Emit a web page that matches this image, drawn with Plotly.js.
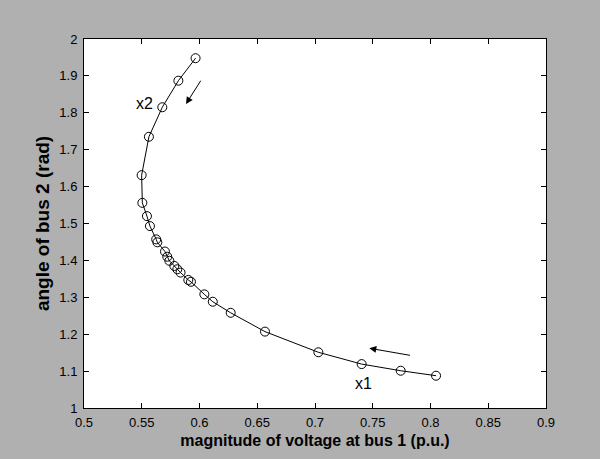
<!DOCTYPE html>
<html>
<head>
<meta charset="utf-8">
<script src="https://cdn.plot.ly/plotly-3.0.1.min.js"></script>
<style>html,body{margin:0;padding:0;background:#b0b0b0;}#plot{width:600px;height:459px;}</style>
</head>
<body>
<div id="plot"></div>
<script>
// magnitude of voltage at bus 1 (p.u.)
var voltage = [0.5966, 0.5817, 0.5678, 0.5562, 0.5499, 0.5505, 0.5545, 0.5571, 0.5625, 0.5635,
               0.5701, 0.5721, 0.5739, 0.5782, 0.5808, 0.5836, 0.5903, 0.5926, 0.6042, 0.6115,
               0.6270, 0.6567, 0.7029, 0.7404, 0.7742, 0.8048];
// angle of bus 2 (rad)
var angle = [1.948, 1.887, 1.815, 1.735, 1.631, 1.556, 1.520, 1.493, 1.457, 1.449,
             1.424, 1.410, 1.399, 1.385, 1.376, 1.367, 1.347, 1.342, 1.308, 1.288,
             1.258, 1.207, 1.151, 1.119, 1.101, 1.0875];
var xTicks = [0.5, 0.55, 0.6, 0.65, 0.7, 0.75, 0.8, 0.85, 0.9];
var xTickText = ['0.5', '0.55', '0.6', '0.65', '0.7', '0.75', '0.8', '0.85', '0.9'];
var yTicks = [1, 1.1, 1.2, 1.3, 1.4, 1.5, 1.6, 1.7, 1.8, 1.9, 2];
var yTickText = ['1', '1.1', '1.2', '1.3', '1.4', '1.5', '1.6', '1.7', '1.8', '1.9', '2'];
// labels and direction arrows (data coordinates)
var labelText = ['x2', 'x1'];
var labelX = [0.5528, 0.7418];
var labelY = [1.824, 1.067];
var arrowHeadX = [0.5883, 0.7470];
var arrowHeadY = [1.824, 1.162];
var arrowTailX = [0.6019, 0.7836];
var arrowTailY = [1.891, 1.142];

var trace = {
  x: voltage, y: angle, type: 'scatter', mode: 'lines+markers',
  line: {color: '#000', width: 1},
  marker: {symbol: 'circle-open', size: 9, color: '#000', line: {width: 1, color: '#000'}},
  hoverinfo: 'x+y'
};

var annotations = [];
for (var i = 0; i < labelText.length; i++) {
  annotations.push({x: labelX[i], y: labelY[i], xref: 'x', yref: 'y', text: labelText[i],
    showarrow: false, font: {family: 'Liberation Sans, Arial, sans-serif', size: 16, color: '#000'}});
}
for (var j = 0; j < arrowHeadX.length; j++) {
  annotations.push({x: arrowHeadX[j], y: arrowHeadY[j], ax: arrowTailX[j], ay: arrowTailY[j],
    xref: 'x', yref: 'y', axref: 'x', ayref: 'y', text: '', showarrow: true,
    arrowhead: 2, arrowsize: 1.4, arrowwidth: 1, arrowcolor: '#000'});
}

var layout = {
  width: 600, height: 459,
  margin: {l: 84, r: 54, t: 39, b: 51, pad: 0},
  paper_bgcolor: '#b0b0b0', plot_bgcolor: '#ffffff',
  showlegend: false,
  font: {family: 'Liberation Sans, Arial, sans-serif', color: '#000'},
  xaxis: {
    range: [0.5, 0.9], tickvals: xTicks, ticktext: xTickText,
    ticks: 'inside', ticklen: 5, tickwidth: 1, tickcolor: '#000',
    showline: true, linecolor: '#000', linewidth: 1, mirror: 'ticks',
    showgrid: false, zeroline: false,
    tickfont: {size: 13, color: '#000'}, ticklabelstandoff: 2,
    title: {text: '<b>magnitude of voltage at bus 1 (p.u.)</b>', font: {size: 16, color: '#000'}, standoff: 6}
  },
  yaxis: {
    range: [1, 2], tickvals: yTicks, ticktext: yTickText,
    ticks: 'inside', ticklen: 5, tickwidth: 1, tickcolor: '#000',
    showline: true, linecolor: '#000', linewidth: 1, mirror: 'ticks',
    showgrid: false, zeroline: false,
    tickfont: {size: 13, color: '#000'}, ticklabelstandoff: 3,
    title: {text: '<b>angle of bus 2 (rad)</b>', font: {size: 19, color: '#000'}, standoff: 4}
  },
  annotations: annotations
};

Plotly.newPlot('plot', [trace], layout, {displayModeBar: false, staticPlot: true});
</script>
</body>
</html>
